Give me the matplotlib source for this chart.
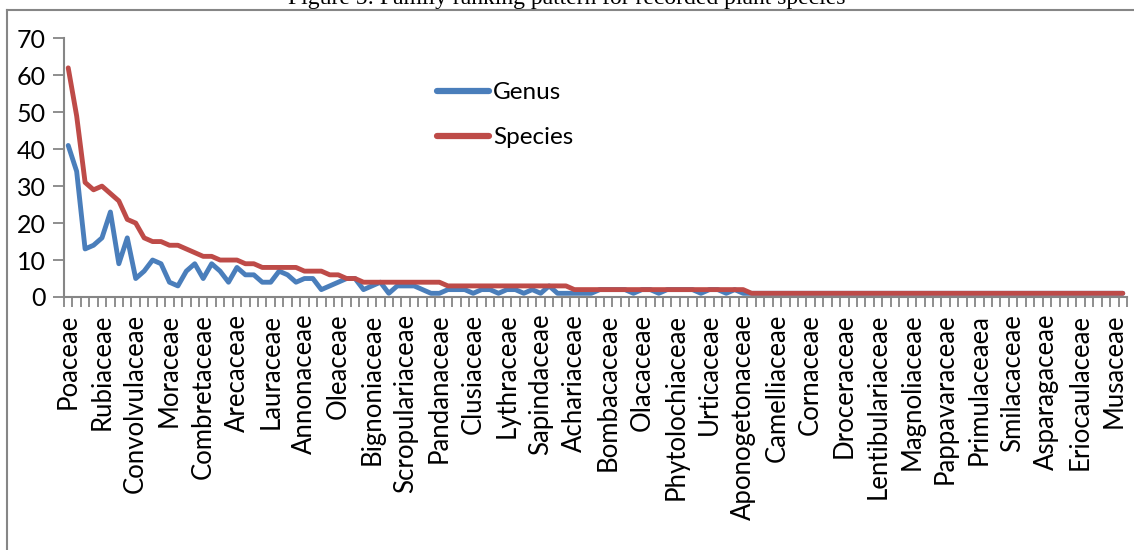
import numpy as np
import matplotlib
matplotlib.use("Agg")
import matplotlib.pyplot as plt
from matplotlib.lines import Line2D

# ---- data -------------------------------------------------------------
title = "Figure 5: Family ranking pattern for recorded plant species"

# labels shown on the category axis (every 4th family of 126)
shown_families = ["Poaceae", "Rubiaceae", "Convolvulaceae", "Moraceae",
                  "Combretaceae", "Arecaceae", "Lauraceae", "Annonaceae",
                  "Oleaceae", "Bignoniaceae", "Scropulariaceae", "Pandanaceae",
                  "Clusiaceae", "Lythraceae", "Sapindaceae", "Achariaceae",
                  "Bombacaceae", "Olacaceae", "Phytolochiaceae", "Urticaceae",
                  "Aponogetonaceae", "Camelliaceae", "Cornaceae", "Droceraceae",
                  "Lentibulariaceae", "Magnoliaceae", "Pappavaraceae",
                  "Primulaceaea", "Smilacaceae", "Asparagaceae",
                  "Eriocaulaceae", "Musaceae"]
label_step = 4

genus = [41, 34, 13, 14, 16, 23, 9, 16, 5, 7,
         10, 9, 4, 3, 7, 9, 5, 9, 7, 4,
         8, 6, 6, 4, 4, 7, 6, 4, 5, 5,
         2, 3, 4, 5, 5, 2, 3, 4, 1, 3,
         3, 3, 2, 1, 1, 2, 2, 2, 1, 2,
         2, 1, 2, 2, 1, 2, 1, 3, 1, 1,
         1, 1, 1, 2, 2, 2, 2, 1, 2, 2,
         1, 2, 2, 2, 2, 1, 2, 2, 1, 2,
         1] + [1] * 45

species = [62, 49, 31, 29, 30, 28, 26, 21, 20, 16,
           15, 15, 14, 14, 13, 12, 11, 11, 10, 10,
           10, 9, 9, 8, 8, 8, 8, 8, 7, 7,
           7, 6, 6, 5, 5] + [4] * 10 + [3] * 15 + [2] * 21 + [1] * 45

series_names = ["Genus", "Species"]
y_ticks = [0, 10, 20, 30, 40, 50, 60, 70]

# ---- styling -----------------------------------------------------------
W, H = 1134, 550
blue = "#4A7EBB"
red = "#BE4B48"
axis_gray = "#868686"
font = "Lato"
fs = 18.5

fig = plt.figure(figsize=(W / 100, H / 100), dpi=100)
fig.patch.set_facecolor("white")

# outer chart border (clipped by the picture at right/bottom)
fig.add_artist(Line2D([7 / W, 1.0], [1 - 10 / H, 1 - 10 / H],
                      color=axis_gray, lw=1.5, transform=fig.transFigure))
fig.add_artist(Line2D([7 / W, 7 / W], [1 - 10 / H, 0.0],
                      color=axis_gray, lw=1.5, transform=fig.transFigure))

fig.text(0.5, 1 - 4 / H, title, ha="center", va="baseline",
         family="Liberation Serif", fontsize=17)

left, right, top, bottom = 64, 1127, 38.3, 297
ax = fig.add_axes([left / W, 1 - bottom / H, (right - left) / W, (bottom - top) / H])

n = len(species)
x = np.arange(n)
ax.plot(x, genus, color=blue, lw=3.5, solid_capstyle="round",
        solid_joinstyle="round", label=series_names[0])
ax.plot(x, species, color=red, lw=3.5, solid_capstyle="round",
        solid_joinstyle="round", label=series_names[1])

ax.set_xlim(-0.5, n - 0.5)
ax.set_ylim(0, 70)
ax.set_yticks(y_ticks)
ax.set_yticklabels([str(v) for v in y_ticks], family=font, fontsize=18)

ax.set_xticks(np.arange(0, n, label_step)[:len(shown_families)])
ax.set_xticklabels(shown_families, rotation=90, family=font, fontsize=fs,
                   ha="center", va="top")
ax.set_xticks(np.arange(-0.5, n, 1), minor=True)
ax.tick_params(axis="x", which="major", length=0, pad=12)
ax.tick_params(axis="x", which="minor", length=7, width=1.3, color=axis_gray)
ax.tick_params(axis="y", which="major", length=8, width=1.3, color=axis_gray, pad=5)

for s in ["top", "right"]:
    ax.spines[s].set_visible(False)
for s in ["left", "bottom"]:
    ax.spines[s].set_color(axis_gray)
    ax.spines[s].set_linewidth(1.5)

leg = ax.legend(loc="upper left", bbox_to_anchor=(425 / W, 1 - 70 / H),
                bbox_transform=fig.transFigure, frameon=False,
                prop={"family": font, "size": 17.5}, handlelength=2.15,
                handletextpad=0.15, labelspacing=1.0, borderpad=0)
for h in leg.get_lines():
    h.set_linewidth(4.5)
    h.set_solid_capstyle("round")

fig.savefig("out.png", dpi=100, facecolor="white")
